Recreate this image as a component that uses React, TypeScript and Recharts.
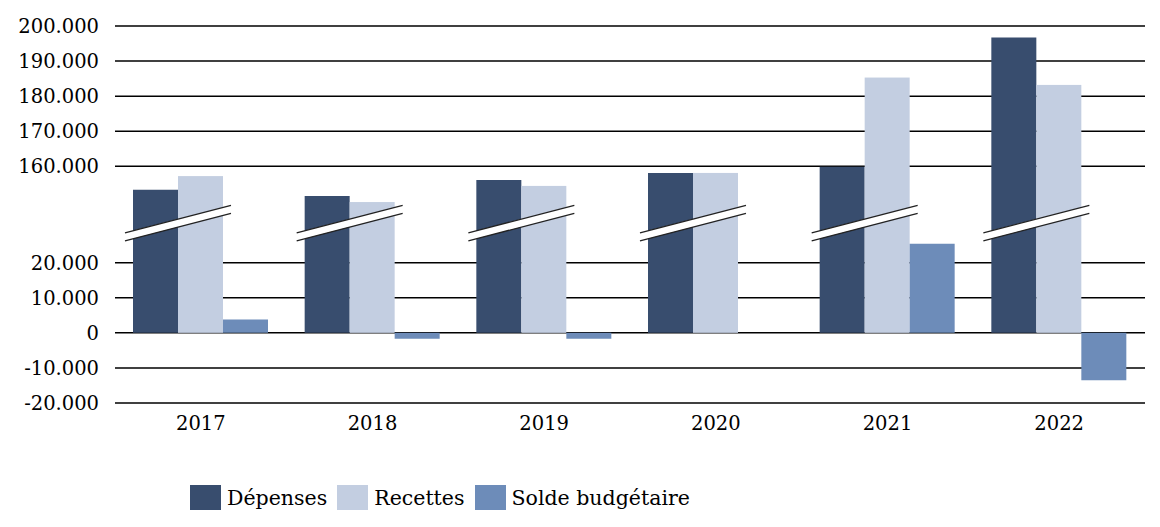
import { BarChart, Bar, XAxis, YAxis, CartesianGrid } from 'recharts';

const years = ['2017', '2018', '2019', '2020', '2021', '2022'];
const depenses = [153300, 151500, 156100, 158100, 159900, 196700];
const recettes = [157200, 149800, 154400, 158100, 185300, 183200];
const solde = [3800, -1700, -1700, 0, 25400, -13500];

// everything above the break is shifted down by this amount
const BREAK_OFFSET = 112500;
const BREAK_AT = 31300;
const tickValues = [-20000, -10000, 0, 10000, 20000, 160000, 170000, 180000, 190000, 200000];

const COLORS = { dep: '#384d6e', rec: '#c3cee1', sol: '#6d8cb9' };
const FONT = 'DejaVu Serif';

const toDisplay = (v: number) => (v > 40000 ? v - BREAK_OFFSET : v);
const fromDisplay = (v: number) => (v > BREAK_AT ? v + BREAK_OFFSET : v);
const fmt = (v: number) => {
  const r = Math.round(fromDisplay(v));
  if (r === 0) return '0';
  const s = Math.abs(r).toString().replace(/\B(?=(\d{3})+(?!\d))/g, '.');
  return (r < 0 ? '-' : '') + s;
};

const data = years.map((year, i) => ({
  year,
  dep: toDisplay(depenses[i]),
  rec: toDisplay(recettes[i]),
  sol: solde[i],
}));

function BreakBar(props: any) {
  const { x, y, width, height, fill, value } = props;
  const zeroY = y + height;
  const perUnit = height / value;
  const cy = zeroY - BREAK_AT * perUnit;
  const dx = 53;
  const dy = 13.75;
  const t = 4;
  const cx = x;
  return (
    <g>
      <rect x={x} y={y} width={width} height={height} fill={fill} />
      <polygon
        points={`${cx - dx},${cy + dy - t} ${cx + dx},${cy - dy - t} ${cx + dx},${cy - dy + t} ${cx - dx},${cy + dy + t}`}
        fill="#fff"
      />
      <line x1={cx - dx} y1={cy + dy - t} x2={cx + dx} y2={cy - dy - t} stroke="#222" strokeWidth={1.3} />
      <line x1={cx - dx} y1={cy + dy + t} x2={cx + dx} y2={cy - dy + t} stroke="#222" strokeWidth={1.3} />
    </g>
  );
}

const legendItems = [
  { label: 'Dépenses', color: COLORS.dep },
  { label: 'Recettes', color: COLORS.rec },
  { label: 'Solde budgétaire', color: COLORS.sol },
];

export default function App() {
  return (
    <div style={{ position: 'absolute', left: 0, top: 0, width: 1160, height: 527, background: '#fff' }}>
      <BarChart
        width={1160}
        height={527}
        data={data}
        margin={{ top: 26, right: 15, bottom: 94, left: 0 }}
        barGap={0}
        barSize={45}
      >
        <CartesianGrid vertical={false} stroke="#000" strokeWidth={1.5} />
        <XAxis
          dataKey="year"
          height={30}
          axisLine={false}
          tickLine={false}
          tickSize={0}
          tickMargin={13}
          tick={{ fill: '#000', fontFamily: FONT, fontSize: 19.5 }}
        />
        <YAxis
          width={115}
          domain={[-20000, 87500]}
          ticks={tickValues.map(toDisplay)}
          interval={0}
          tickFormatter={fmt}
          axisLine={false}
          tickLine={false}
          tickSize={0}
          tickMargin={16}
          tick={{ fill: '#000', fontFamily: FONT, fontSize: 19.5 }}
        />
        <Bar dataKey="dep" name="Dépenses" fill={COLORS.dep} isAnimationActive={false} />
        <Bar dataKey="rec" name="Recettes" fill={COLORS.rec} shape={BreakBar} isAnimationActive={false} />
        <Bar dataKey="sol" name="Solde budgétaire" fill={COLORS.sol} isAnimationActive={false} />
      </BarChart>
      <div
        style={{
          position: 'absolute',
          left: 190,
          top: 485,
          display: 'flex',
          alignItems: 'center',
          fontFamily: FONT,
          fontSize: 20.5,
          color: '#000',
        }}
      >
        {legendItems.map((it) => (
          <div key={it.label} style={{ display: 'flex', alignItems: 'center', marginRight: 10 }}>
            <div style={{ width: 31, height: 25, background: it.color, marginRight: 6 }} />
            <span>{it.label}</span>
          </div>
        ))}
      </div>
    </div>
  );
}
